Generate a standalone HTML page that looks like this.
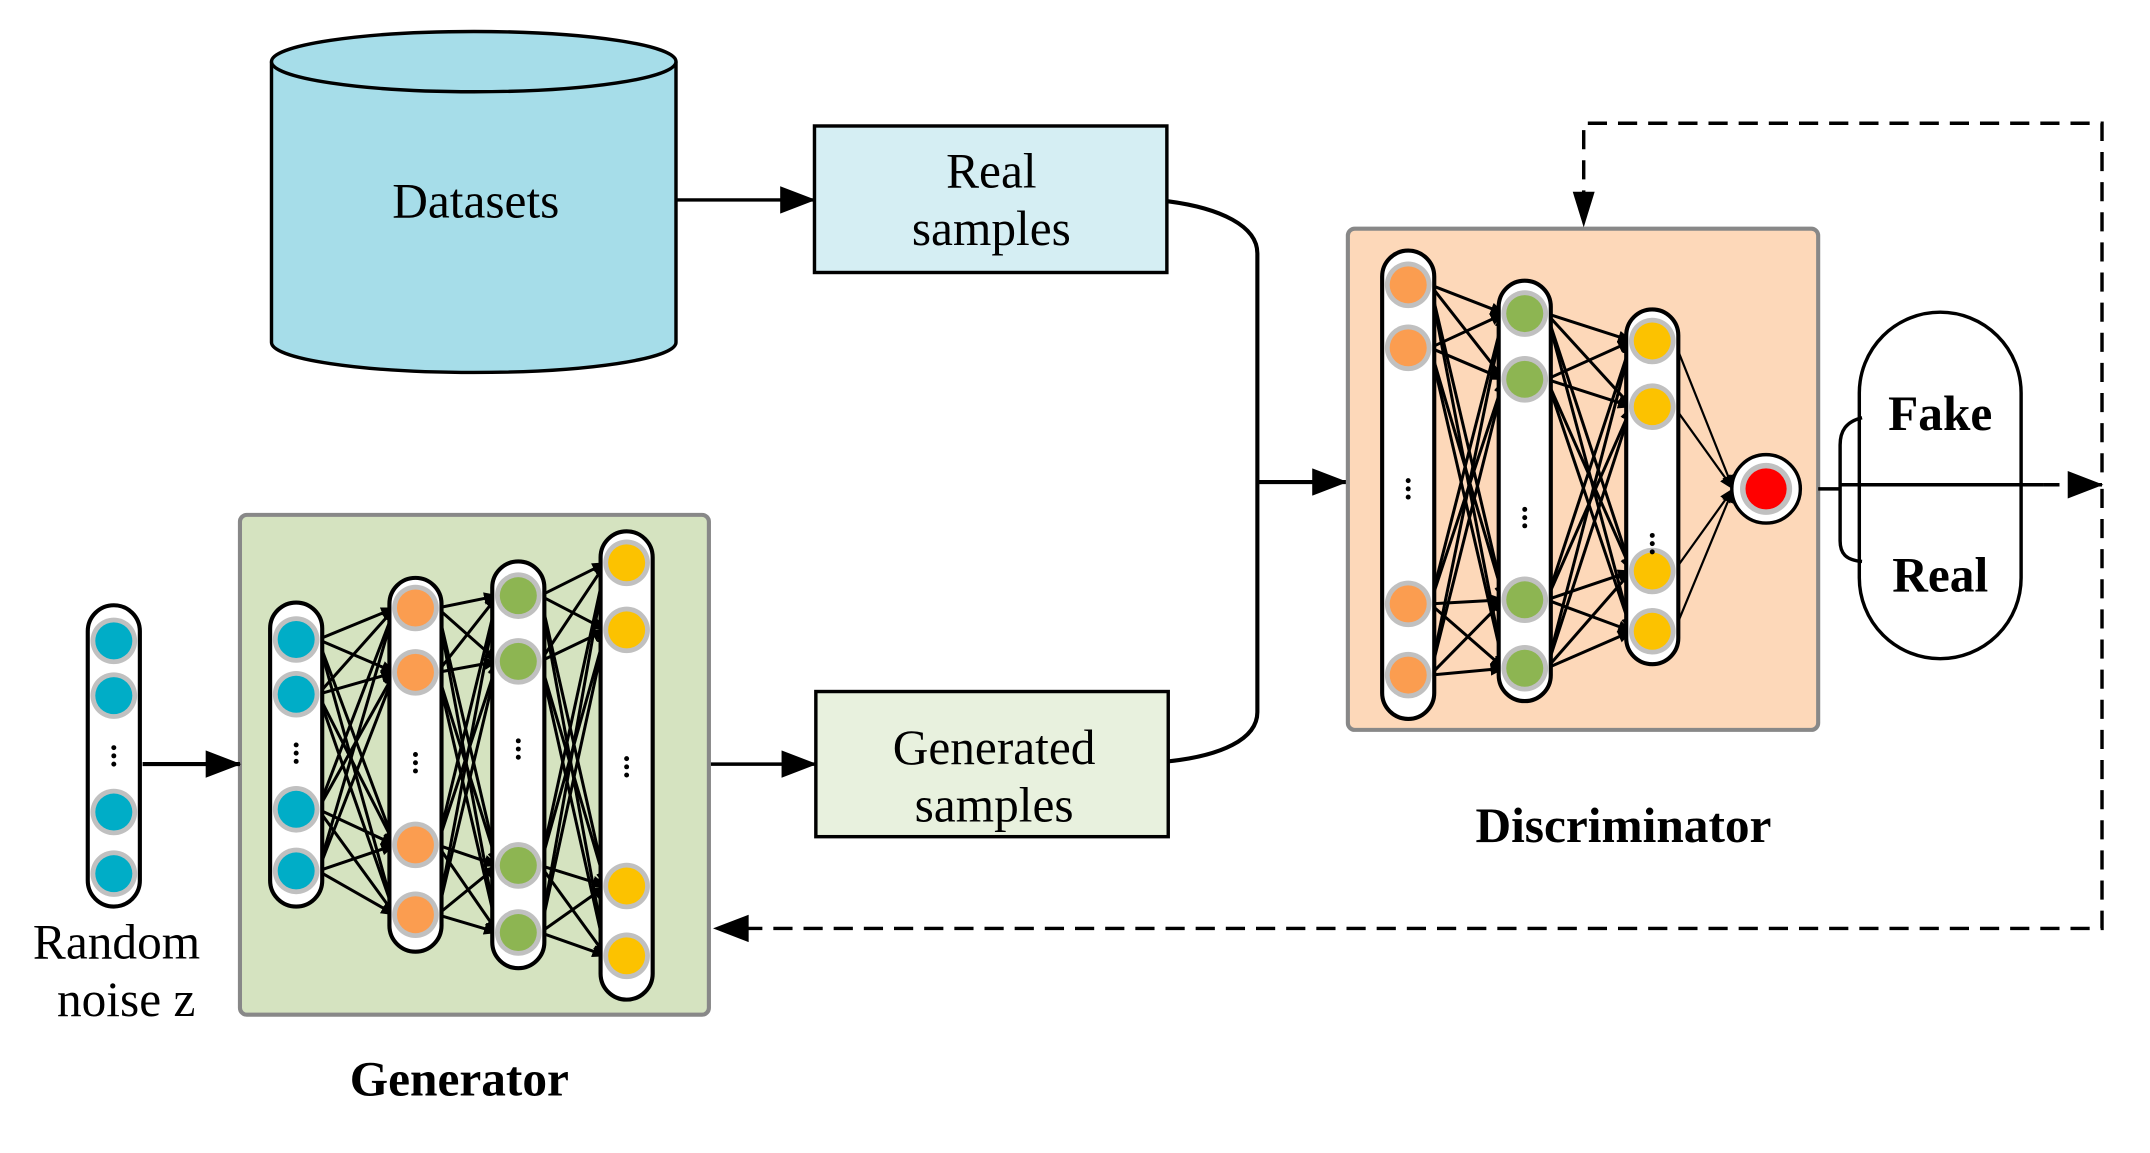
<!DOCTYPE html>
<html><head><meta charset="utf-8"><style>
html,body{margin:0;padding:0;background:#fff;}
svg{display:block;}
text{font-family:"Liberation Serif",serif;}
</style></head><body>
<svg id="s" width="2150" height="1153" viewBox="0 0 1568 842" preserveAspectRatio="none" xmlns="http://www.w3.org/2000/svg">
<defs>
<marker id="ah" markerWidth="11" markerHeight="9" refX="10" refY="4.5" orient="auto" markerUnits="userSpaceOnUse"><path d="M0,0 L11,4.5 L0,9 z" fill="#000"/></marker>
<marker id="big" markerWidth="26" markerHeight="20" refX="25" refY="10" orient="auto" markerUnits="userSpaceOnUse"><path d="M0,0 L26,10 L0,20 z" fill="#000"/></marker>
</defs>
<path d="M198,45 L198,250 A147.5,22 0 0 0 493,250 L493,45" fill="#a6dde9" stroke="#000" stroke-width="2.5"/>
<ellipse cx="345.5" cy="45" rx="147.5" ry="22" fill="#a6dde9" stroke="#000" stroke-width="2.5"/>
<text x="347" y="159" font-size="36" text-anchor="middle">Datasets</text>
<rect x="594" y="92" width="257" height="107" fill="#d5eef3" stroke="#000" stroke-width="2.5"/>
<text x="723" y="137" font-size="36" text-anchor="middle">Real</text>
<text x="723" y="179" font-size="36" text-anchor="middle">samples</text>
<line x1="493" y1="146" x2="594" y2="146" stroke="#000" stroke-width="2.5" marker-end="url(#big)"/>
<rect x="595" y="505" width="257" height="106" fill="#e8f1de" stroke="#000" stroke-width="2.5"/>
<text x="725" y="558" font-size="36" text-anchor="middle">Generated</text>
<text x="725" y="600" font-size="36" text-anchor="middle">samples</text>
<line x1="518" y1="558" x2="595" y2="558" stroke="#000" stroke-width="2.5" marker-end="url(#big)"/>
<path d="M852,147 C890,152 917,165 917,185 L917,520 C917,540 890,552 852,556" fill="none" stroke="#000" stroke-width="3"/>
<line x1="917" y1="352" x2="982" y2="352" stroke="#000" stroke-width="3" marker-end="url(#big)"/>
<rect x="983" y="167" width="343" height="366" rx="5" fill="#fdd8b9" stroke="#888" stroke-width="3"/>
<rect x="175" y="376" width="342" height="365" rx="5" fill="#d5e3c0" stroke="#888" stroke-width="3"/>
<text x="1184" y="615" font-size="36" font-weight="bold" text-anchor="middle">Discriminator</text>
<text x="335" y="800" font-size="36" font-weight="bold" text-anchor="middle">Generator</text>
<text x="85" y="700" font-size="36" text-anchor="middle">Random</text>
<text x="92" y="742" font-size="36" text-anchor="middle">noise z</text>
<line x1="104" y1="558" x2="175" y2="558" stroke="#000" stroke-width="3" marker-end="url(#big)"/>
<g id="net"></g>
<rect x="1263" y="332" width="50" height="50" rx="25" fill="#fff" stroke="#000" stroke-width="2.5"/>
<circle cx="1288" cy="357" r="19" fill="#c0c0c0"/>
<circle cx="1288" cy="357" r="15" fill="#ff0000"/>
<rect x="1356" y="228" width="118" height="253" rx="59" fill="#fff" stroke="#000" stroke-width="2.5"/>
<path d="M1358,305 C1346,308 1342,315 1342,325 L1342,395 C1342,404 1346,409 1358,410" fill="none" stroke="#000" stroke-width="2.5"/>
<line x1="1326" y1="357" x2="1342" y2="357" stroke="#000" stroke-width="2.5"/>
<line x1="1342" y1="354" x2="1490" y2="354" stroke="#000" stroke-width="2.5"/>
<line x1="1490" y1="354" x2="1533" y2="354" stroke="#000" stroke-width="2.5" stroke-dasharray="12,7" marker-end="url(#big)"/>
<text x="1415" y="314" font-size="36" font-weight="bold" text-anchor="middle">Fake</text>
<text x="1415" y="432" font-size="36" font-weight="bold" text-anchor="middle">Real</text>
<path d="M1533,357 L1533,678 L540,678" fill="none" stroke="#000" stroke-width="2.5" stroke-dasharray="14,8"/>
<path d="M520,678 L546,668 L546,688 z" fill="#000"/>
<path d="M1533,345 L1533,90 L1155,90 L1155,150" fill="none" stroke="#000" stroke-width="2.5" stroke-dasharray="14,8"/>
<path d="M1155,166 L1147,140 L1163,140 z" fill="#000"/>
</svg>
<script>
var NS="http://www.w3.org/2000/svg",g=document.getElementById('net');
function el(t,a){var e=document.createElementNS(NS,t);for(var k in a)e.setAttribute(k,a[k]);g.appendChild(e);return e;}
var cols=[
 {x:83,t:442,b:662,n:[468,508,593,638],d:552,c:"#00adc7",net:0},
 {x:216,t:440,b:662,n:[467,507,591,636],d:550,c:"#00adc7",net:1},
 {x:303,t:422,b:695,n:[444,491,617,668],d:557,c:"#fb9d50",net:1},
 {x:378,t:410,b:707,n:[435,483,632,681],d:547,c:"#8db552",net:1},
 {x:457,t:388,b:730,n:[411,460,647,698],d:560,c:"#fcc200",net:1},
 {x:1027,t:183,b:525,n:[208,254,441,493],d:357,c:"#fb9d50",net:2},
 {x:1112,t:205,b:512,n:[229,277,438,488],d:378,c:"#8db552",net:2},
 {x:1205,t:226,b:485,n:[249,297,417,461],d:397,c:"#fcc200",net:2}
];
for(var i=0;i<cols.length-1;i++){
 var a=cols[i],b=cols[i+1];
 if(a.net!==b.net||a.net===0)continue;
 a.n.forEach(function(y1){b.n.forEach(function(y2){
  el('line',{x1:a.x+16,y1:y1,x2:b.x-15,y2:y2,stroke:"#000","stroke-width":2.2,"marker-end":"url(#ah)"});
 });});
}
cols[7].n.forEach(function(y){el('line',{x1:1221,y1:y,x2:1264,y2:357,stroke:"#000","stroke-width":1.6,"marker-end":"url(#ah)"});});
cols.forEach(function(c){
 el('rect',{x:c.x-19,y:c.t,width:38,height:c.b-c.t,rx:19,fill:"#fff",stroke:"#000","stroke-width":3});
 c.n.forEach(function(y){el('circle',{cx:c.x,cy:y,r:17,fill:"#c0c0c0"});el('circle',{cx:c.x,cy:y,r:13.5,fill:c.c});});
 [-6,0,6].forEach(function(o){el('circle',{cx:c.x,cy:c.d+o,r:1.8,fill:"#000"});});
});
</script>
</body></html>
